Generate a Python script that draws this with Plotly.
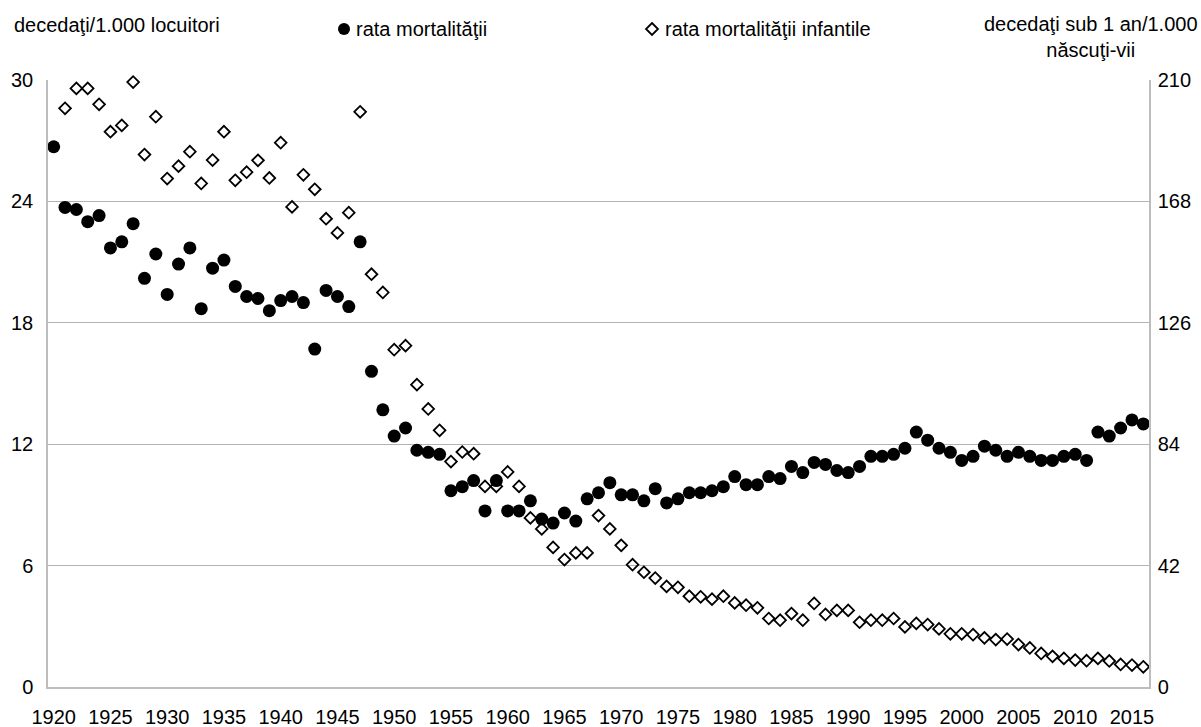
import plotly.graph_objects as go

years = list(range(1920, 2017))

rata_mortalitatii = [
    26.7, 23.7, 23.6, 23.0, 23.3, 21.7, 22.0, 22.9, 20.2, 21.4,
    19.4, 20.9, 21.7, 18.7, 20.7, 21.1, 19.8, 19.3, 19.2, 18.6,
    19.1, 19.3, 19.0, 16.7, 19.6, 19.3, 18.8, 22.0, 15.6, 13.7,
    12.4, 12.8, 11.7, 11.6, 11.5, 9.7, 9.9, 10.2, 8.7, 10.2,
    8.7, 8.7, 9.2, 8.3, 8.1, 8.6, 8.2, 9.3, 9.6, 10.1,
    9.5, 9.5, 9.2, 9.8, 9.1, 9.3, 9.6, 9.6, 9.7, 9.9,
    10.4, 10.0, 10.0, 10.4, 10.3, 10.9, 10.6, 11.1, 11.0, 10.7,
    10.6, 10.9, 11.4, 11.4, 11.5, 11.8, 12.6, 12.2, 11.8, 11.6,
    11.2, 11.4, 11.9, 11.7, 11.4, 11.6, 11.4, 11.2, 11.2, 11.4,
    11.5, 11.2, 12.6, 12.4, 12.8, 13.2, 13.0,
]

rata_mortalitatii_infantile = [
    None, 200.2, 207.1, 207.1, 201.6, 192.1, 194.3, 209.3, 184.2, 197.3,
    175.9, 180.2, 185.2, 174.2, 182.3, 192.1, 175.3, 178.1, 182.2, 176.1,
    188.3, 166.1, 177.2, 172.2, 162.0, 157.1, 164.1, 199.0, 142.8, 136.5,
    116.7, 118.1, 104.6, 96.2, 88.8, 78.0, 81.3, 80.7, 69.4, 69.4,
    74.4, 69.4, 58.5, 54.7, 48.3, 44.1, 46.4, 46.4, 59.3, 54.7,
    49.0, 42.3, 39.7, 37.7, 34.8, 34.5, 31.4, 31.2, 30.4, 31.4,
    29.1, 28.3, 27.4, 23.7, 23.1, 25.4, 23.1, 28.9, 25.1, 26.5,
    26.5, 22.4, 23.1, 23.1, 23.7, 20.8, 22.0, 21.6, 20.1, 18.4,
    18.4, 18.1, 17.0, 16.4, 16.6, 14.7, 13.5, 11.6, 10.6, 9.9,
    9.3, 9.1, 9.9, 9.0, 7.8, 7.6, 7.0,
]

x_ticks = list(range(1920, 2016, 5))
left_ticks = [0, 6, 12, 18, 24, 30]
right_ticks = [0, 42, 84, 126, 168, 210]

FONT = "Liberation Sans, Arial, sans-serif"
FS = 20

fig = go.Figure()
fig.add_trace(go.Scatter(
    x=years, y=rata_mortalitatii, mode="markers", name="rata mortalităţii",
    marker=dict(symbol="circle", size=13, color="black", line=dict(width=0)),
    yaxis="y", cliponaxis=False,
))
fig.add_trace(go.Scatter(
    x=years, y=rata_mortalitatii_infantile, mode="markers",
    name="rata mortalităţii infantile",
    marker=dict(symbol="diamond-open", size=9, color="black",
                line=dict(width=1.8, color="black")),
    yaxis="y2", cliponaxis=False,
))

L, R, T, B = 48, 52, 80, 40
W, H = 1201, 727
pw, ph = W - L - R, H - T - B

def px(xp):
    return (xp - L) / pw

def py(yp):
    return (H - B - yp) / ph

fig.update_layout(
    width=W, height=H,
    margin=dict(l=L, r=R, t=T, b=B, pad=0, autoexpand=False),
    paper_bgcolor="white", plot_bgcolor="white",
    showlegend=False,
    font=dict(family=FONT, size=FS, color="black"),
    xaxis=dict(
        range=[1919.5, 2016.5], tickvals=x_ticks, ticktext=[str(v) for v in x_ticks],
        showgrid=False, zeroline=False, showline=True, linecolor="#bdbdbd", linewidth=1.5,
        ticks="", ticklabelstandoff=11, tickfont=dict(size=FS), automargin=False,
    ),
    yaxis=dict(
        range=[0, 30], tickvals=left_ticks, showgrid=True, gridcolor="#b3b3b3", gridwidth=1,
        zeroline=False, showline=True, linecolor="#bdbdbd", linewidth=1.5,
        ticks="", ticklabelstandoff=9, tickfont=dict(size=FS), automargin=False,
    ),
    yaxis2=dict(
        range=[0, 210], tickvals=right_ticks, overlaying="y", side="right",
        showgrid=False, zeroline=False, showline=True, linecolor="#bdbdbd", linewidth=1.5,
        ticks="", ticklabelstandoff=3, tickfont=dict(size=FS), automargin=False,
    ),
)

fig.add_shape(type="circle", xref="paper", yref="paper",
              xsizemode="pixel", ysizemode="pixel",
              xanchor=px(344), yanchor=py(29), x0=-6, x1=6, y0=-6, y1=6,
              fillcolor="black", line=dict(width=0))
fig.add_shape(type="path", xref="paper", yref="paper",
              xsizemode="pixel", ysizemode="pixel",
              xanchor=px(652), yanchor=py(29),
              path="M 0 6 L 6 0 L 0 -6 L -6 0 Z",
              fillcolor="white", line=dict(width=1.8, color="black"))

annos = [
    dict(text="decedaţi/1.000 locuitori", x=px(12), y=py(25), xanchor="left", yanchor="middle"),
    dict(text="rata mortalităţii", x=px(354), y=py(29), xanchor="left", yanchor="middle"),
    dict(text="rata mortalităţii infantile", x=px(663), y=py(29), xanchor="left", yanchor="middle"),
    dict(text="decedaţi sub 1 an/1.000<br>născuţi-vii", x=px(1091), y=py(36.5),
         xanchor="center", yanchor="middle", align="center"),
]
for a in annos:
    fig.add_annotation(xref="paper", yref="paper", showarrow=False,
                       font=dict(family=FONT, size=FS, color="black"), **a)

fig.write_html(
    "out.html",
    config={"displayModeBar": False},
    post_script="document.body.style.margin='0';document.body.style.overflow='hidden';",
)
